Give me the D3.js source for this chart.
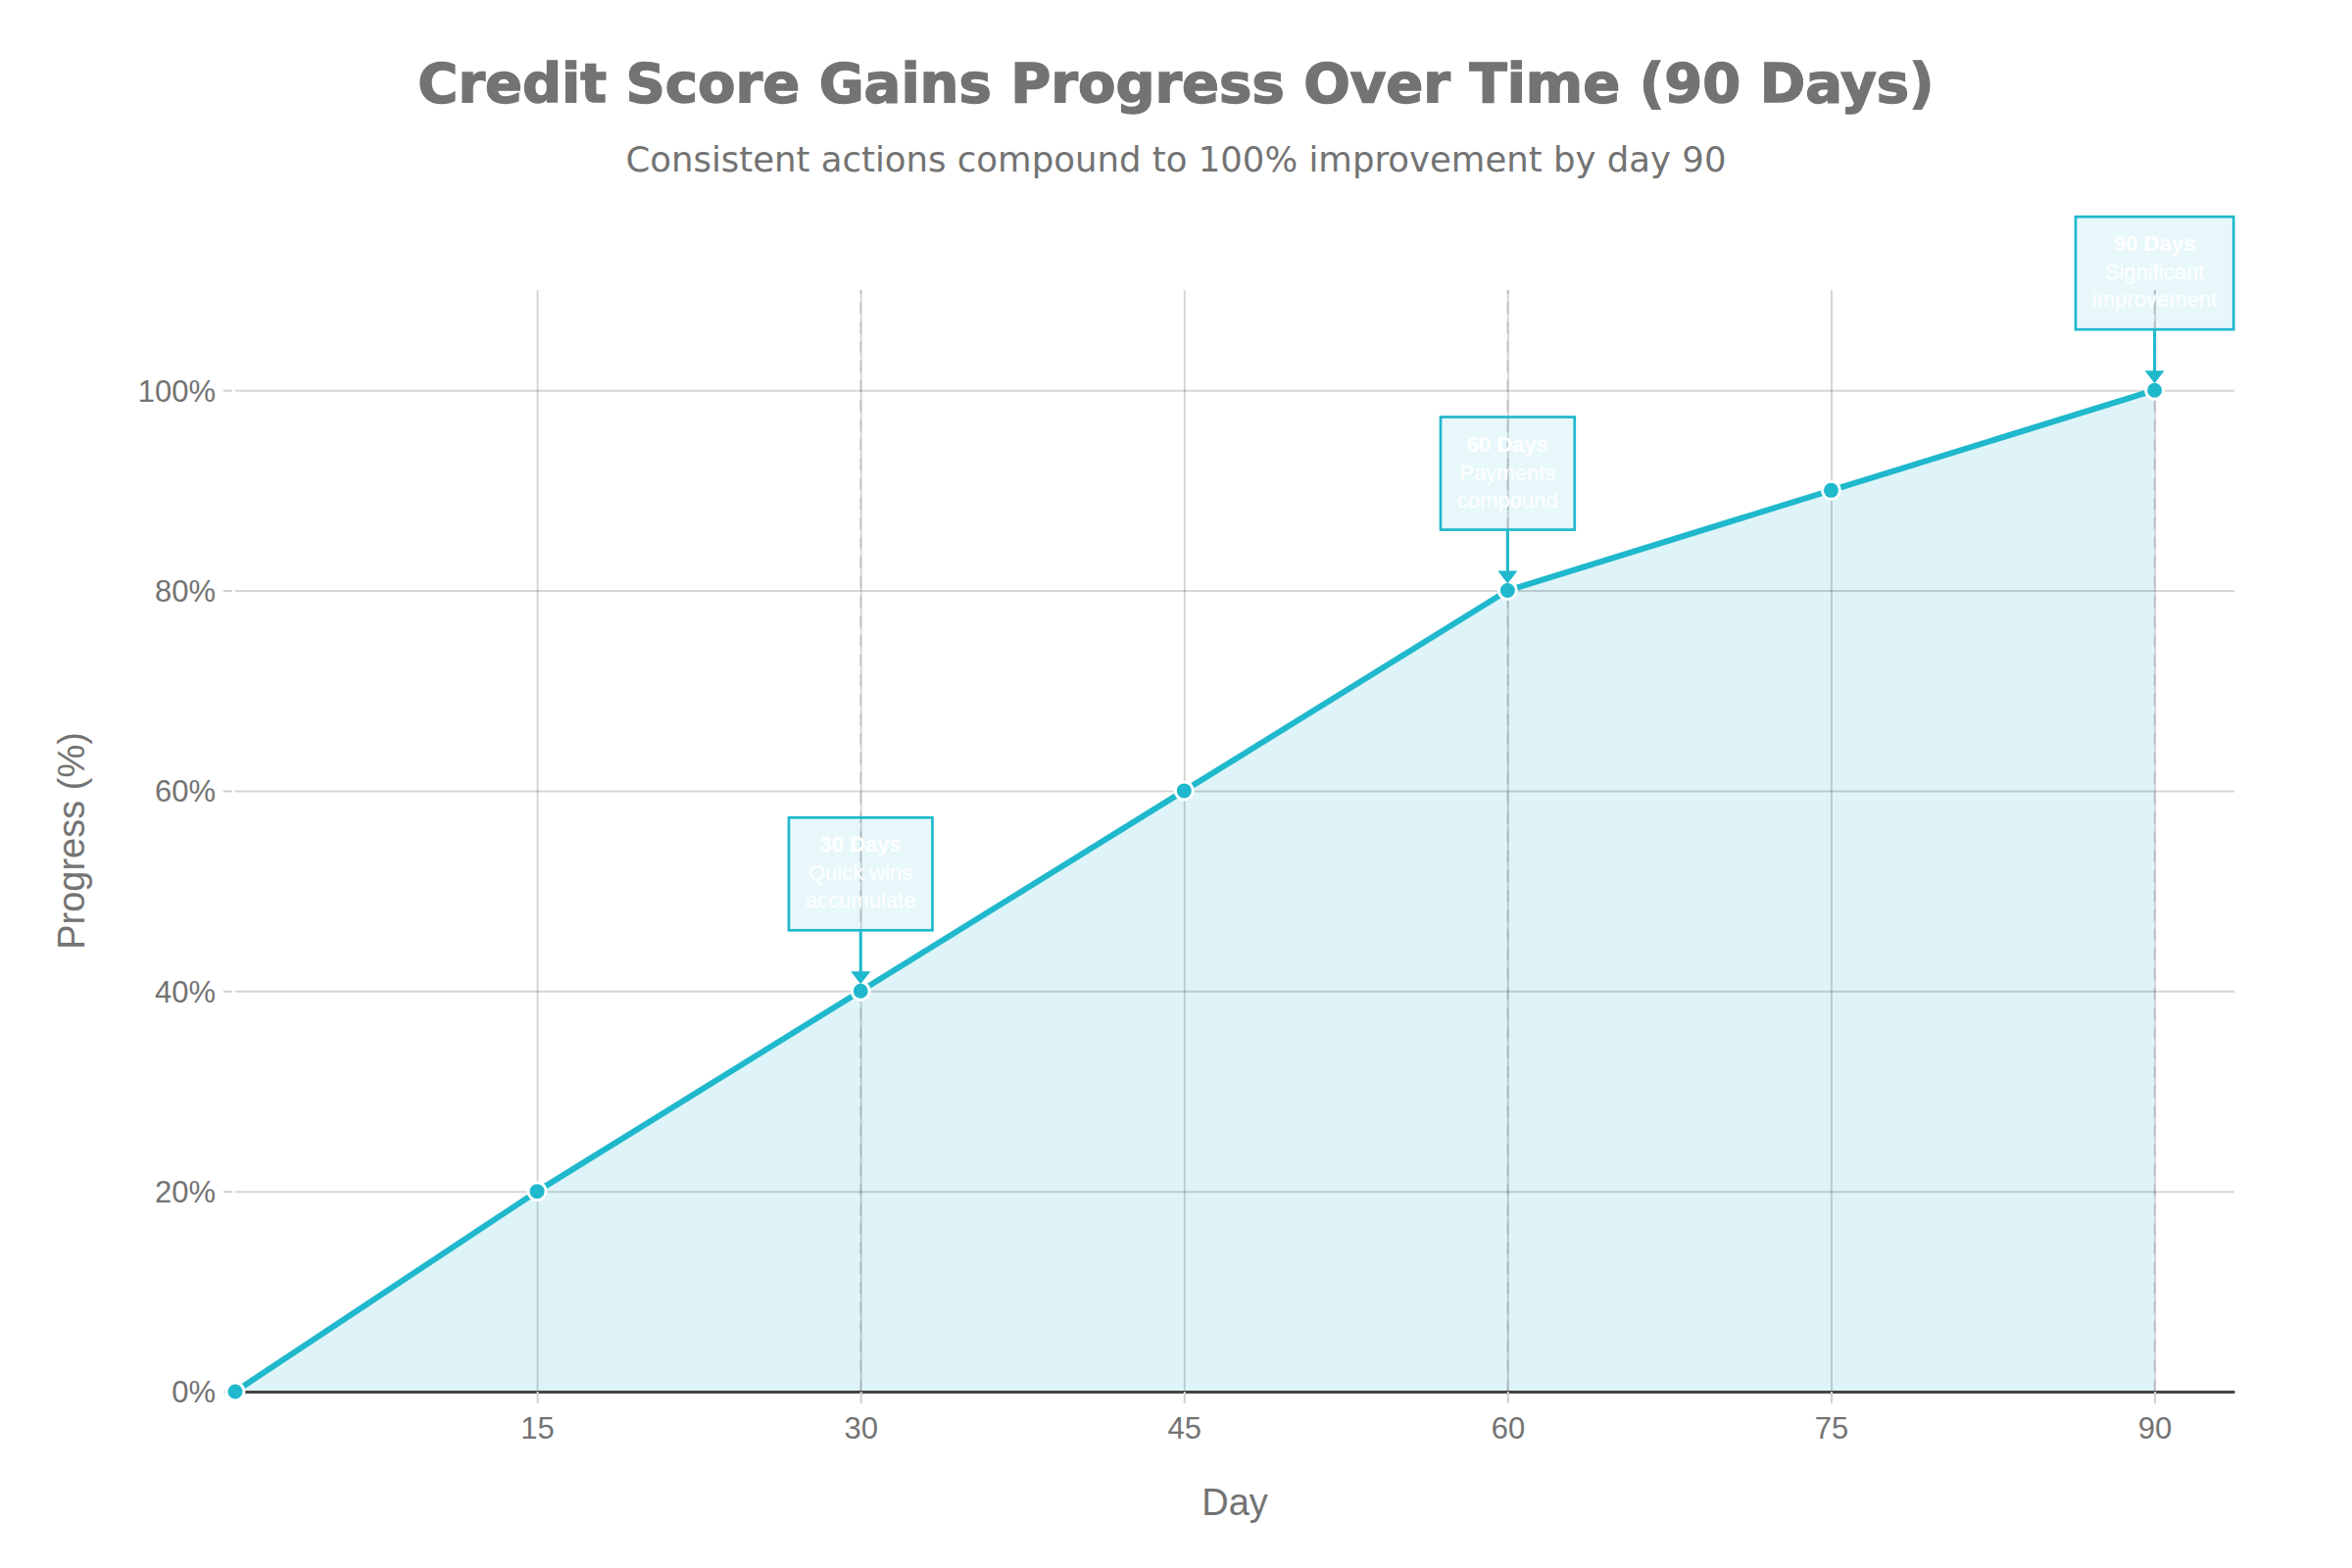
<!DOCTYPE html>
<html>
<head>
<meta charset="utf-8">
<script src="https://cdn.jsdelivr.net/npm/d3@7"></script>
<style>
  body { margin: 0; background: white; }
  text { font-family: "Liberation Sans", Arial, sans-serif; }
</style>
</head>
<body>
<div id="chart"></div>
<script>
// data
var days = [1, 15, 30, 45, 60, 75, 90];
var progress = [0, 20, 40, 60, 80, 90, 100];
var xTicks = [15, 30, 45, 60, 75, 90];
var yTicks = [0, 20, 40, 60, 80, 100];
var milestoneDays = [30, 60, 90];
var milestoneTitles = ["30 Days", "60 Days", "90 Days"];
var milestoneNotes = [["Quick wins", "accumulate"], ["Payments", "compound"], ["Significant", "improvement"]];

var width = 2400, height = 1600;
var marginLeft = 240, marginRight = 120, marginTop = 296, marginBottom = 180;
var teal = "#1FB8CD";
var grey = "#737373";

var svg = d3.select("#chart").append("svg")
    .attr("width", width).attr("height", height)
    .style("display", "block");
svg.append("rect").attr("width", width).attr("height", height).attr("fill", "white");

var xScale = d3.scaleLinear().domain([1, 93.7]).range([marginLeft, width - marginRight]);
var yScale = d3.scaleLinear().domain([0, 110]).range([height - marginBottom, marginTop]);

var points = days.map(function(d, i) { return [d, progress[i]]; });

// area fill under the line
svg.append("path")
    .datum(points)
    .attr("fill", "rgba(31,184,205,0.15)")
    .attr("d", d3.area()
        .x(function(d) { return xScale(d[0]); })
        .y0(yScale(0))
        .y1(function(d) { return yScale(d[1]); }));

// grid horizontal
var gridY = svg.append("g")
    .attr("transform", "translate(" + marginLeft + ",0)")
    .call(d3.axisLeft(yScale).tickValues(yTicks)
        .tickSize(-(width - marginLeft - marginRight)).tickSizeOuter(0).tickFormat(""));
gridY.select(".domain").remove();
gridY.selectAll("line").attr("stroke", "rgba(0,0,0,0.16)").attr("stroke-width", 2);
gridY.selectAll(".tick").filter(function(d) { return d === 0; }).remove();

// grid vertical
var gridX = svg.append("g")
    .attr("transform", "translate(0," + marginTop + ")")
    .call(d3.axisBottom(xScale).tickValues(xTicks)
        .tickSize(height - marginTop - marginBottom).tickSizeOuter(0).tickFormat(""));
gridX.select(".domain").remove();
gridX.selectAll("line").attr("stroke", "rgba(0,0,0,0.16)").attr("stroke-width", 2);

// dashed milestone lines
svg.append("g").selectAll("line").data(milestoneDays).enter()
    .append("line")
    .attr("x1", function(d) { return xScale(d); })
    .attr("x2", function(d) { return xScale(d); })
    .attr("y1", yScale(0))
    .attr("y2", yScale(110))
    .attr("stroke", "rgba(110,110,110,0.22)")
    .attr("stroke-width", 2)
    .attr("stroke-dasharray", "12,8");

// y axis labels + small ticks
var axisY = svg.append("g")
    .attr("transform", "translate(" + (marginLeft - 3) + ",0)")
    .call(d3.axisLeft(yScale).tickValues(yTicks).tickSize(9).tickSizeOuter(0).tickPadding(8)
        .tickFormat(function(d) { return d + "%"; }));
axisY.select(".domain").remove();
axisY.selectAll("line").attr("stroke", "#d0d0d0").attr("stroke-width", 2);
axisY.selectAll("text")
    .attr("fill", grey)
    .style("font-size", "31px")
    .attr("dy", "0.35em");

// x axis
var axisX = svg.append("g")
    .attr("transform", "translate(0," + yScale(0) + ")")
    .call(d3.axisBottom(xScale).tickValues(xTicks).tickSize(12).tickSizeOuter(0).tickPadding(14));
axisX.select(".domain").attr("stroke", "#444").attr("stroke-width", 3);
axisX.selectAll("line").attr("stroke", "#d0d0d0").attr("stroke-width", 2);
axisX.selectAll("text")
    .attr("fill", grey)
    .style("font-size", "31px");

// line
svg.append("path")
    .datum(points)
    .attr("fill", "none")
    .attr("stroke", teal)
    .attr("stroke-width", 6)
    .attr("stroke-linejoin", "round")
    .attr("d", d3.line()
        .x(function(d) { return xScale(d[0]); })
        .y(function(d) { return yScale(d[1]); }));

// markers
svg.append("g").selectAll("circle").data(points).enter()
    .append("circle")
    .attr("cx", function(d) { return xScale(d[0]); })
    .attr("cy", function(d) { return yScale(d[1]); })
    .attr("r", 9)
    .attr("fill", teal)
    .attr("stroke", "white")
    .attr("stroke-width", 3);

// milestone annotations
milestoneDays.forEach(function(day, i) {
    var px = xScale(day);
    var py = yScale(progress[days.indexOf(day)]);
    var boxBottom = py - 62;
    var boxTop = boxBottom - 115;
    var g = svg.append("g");

    var rect = g.append("rect");
    var lines = [milestoneTitles[i]].concat(milestoneNotes[i]);
    var offsets = [35, 64, 92];
    var maxW = 0;
    lines.forEach(function(t, j) {
        var txt = g.append("text")
            .attr("x", px)
            .attr("y", boxTop + offsets[j])
            .attr("text-anchor", "middle")
            .attr("fill", "white")
            .style("font-size", "22px")
            .style("font-weight", j === 0 ? "bold" : "normal")
            .text(t);
        maxW = Math.max(maxW, txt.node().getComputedTextLength());
    });
    var bw = maxW + 34;
    rect.attr("x", px - bw / 2)
        .attr("y", boxTop)
        .attr("width", bw)
        .attr("height", 115)
        .attr("fill", "rgba(31,184,205,0.1)")
        .attr("stroke", teal)
        .attr("stroke-width", 2.7);

    // arrow
    g.append("line")
        .attr("x1", px).attr("x2", px)
        .attr("y1", boxBottom + 1).attr("y2", py - 18)
        .attr("stroke", teal)
        .attr("stroke-width", 3);
    g.append("path")
        .attr("d", "M" + (px - 10) + "," + (py - 20) + "L" + (px + 10) + "," + (py - 20) + "L" + px + "," + (py - 7) + "Z")
        .attr("fill", teal);
});

// titles
svg.append("text")
    .attr("x", width / 2)
    .attr("y", 104)
    .attr("text-anchor", "middle")
    .attr("fill", grey)
    .attr("stroke", grey)
    .attr("stroke-width", 1.5)
    .style("font-family", "'DejaVu Sans', sans-serif")
    .style("font-weight", "bold")
    .style("font-size", "56px")
    .text("Credit Score Gains Progress Over Time (90 Days)");

svg.append("text")
    .attr("x", width / 2)
    .attr("y", 175)
    .attr("text-anchor", "middle")
    .attr("fill", grey)
    .style("font-family", "'DejaVu Sans', sans-serif")
    .style("font-size", "35.5px")
    .text("Consistent actions compound to 100% improvement by day 90");

svg.append("text")
    .attr("x", (marginLeft + width - marginRight) / 2)
    .attr("y", 1546)
    .attr("text-anchor", "middle")
    .attr("fill", grey)
    .style("font-size", "38px")
    .text("Day");

svg.append("text")
    .attr("transform", "translate(86," + yScale(55) + ") rotate(-90)")
    .attr("text-anchor", "middle")
    .attr("fill", grey)
    .style("font-size", "38px")
    .text("Progress (%)");
</script>
</body>
</html>
